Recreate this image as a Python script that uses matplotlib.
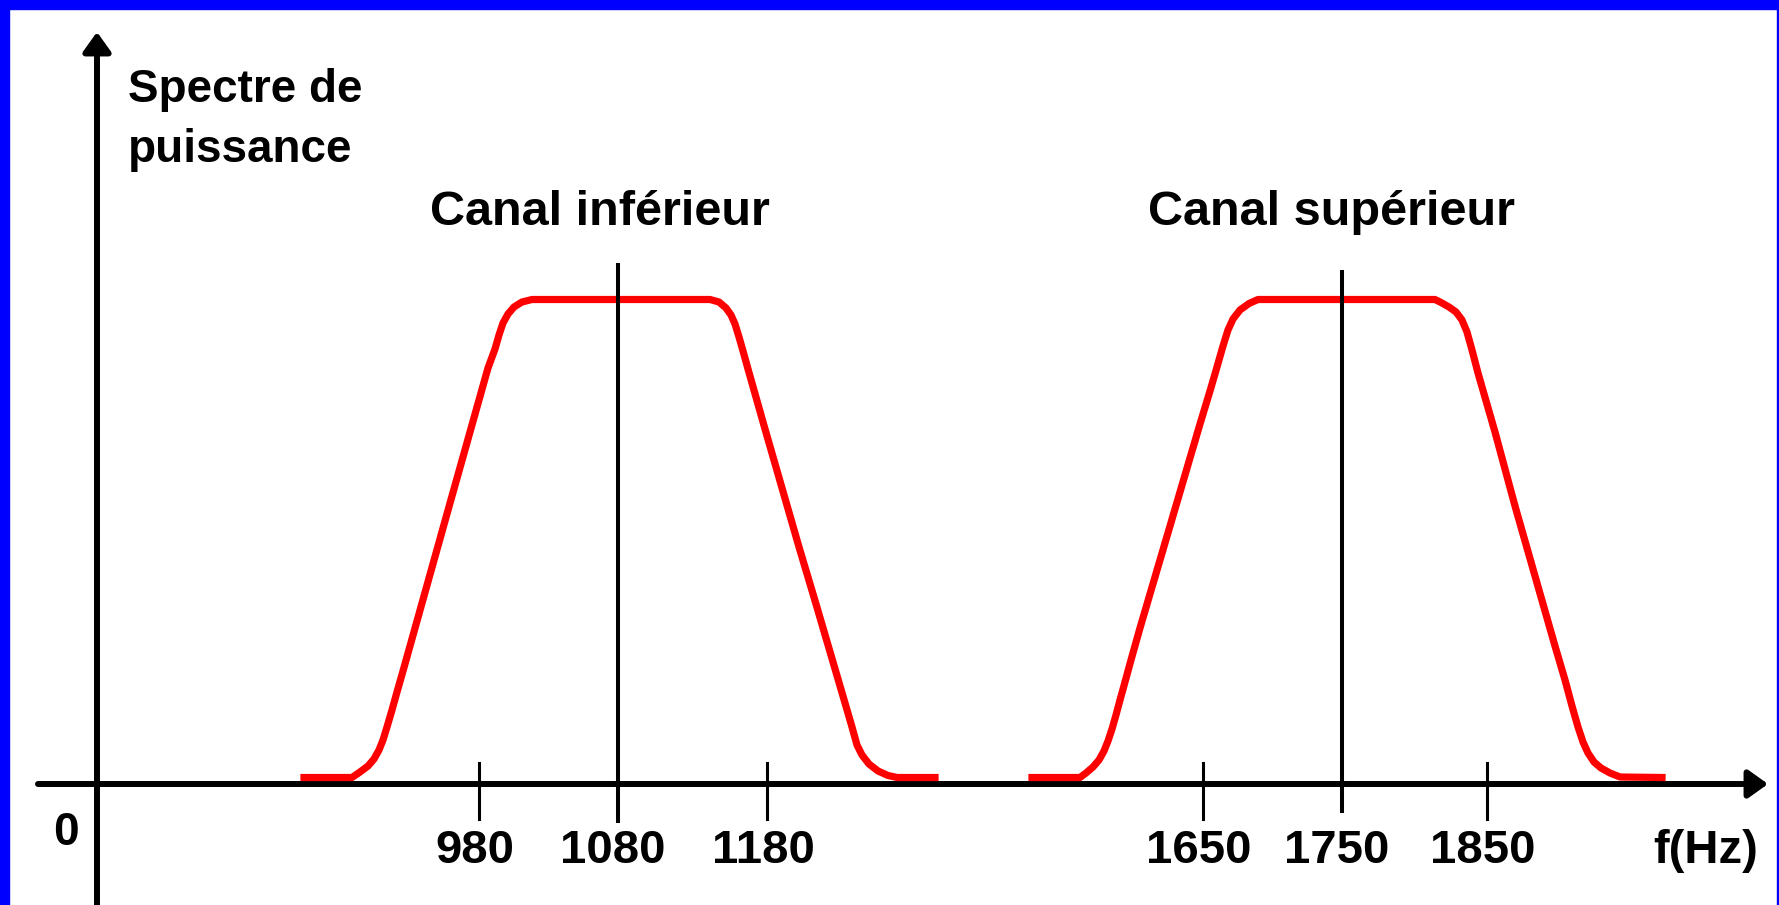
import matplotlib.pyplot as plt
from matplotlib.patches import Rectangle

# -------------------------
# DATA
# x: position along the (schematic) frequency axis
# p: power spectrum height, arbitrary units (top of the band = 484.5)
# -------------------------
low_x = [304, 352, 360, 368, 374, 379, 383, 387, 392, 397, 403, 410, 431, 452,
         470, 488, 495, 499, 503, 508, 514, 522, 532,
         710, 719, 726, 731, 735, 739, 743, 748, 765, 782, 799, 816, 833, 845,
         852, 857, 862, 869, 878, 888, 897, 935]
low_p = [6.5, 6.5, 12, 18, 25, 34, 44, 57, 74, 92, 113, 138, 213, 288,
         352, 416, 435, 449, 461, 470, 477, 482, 484.5,
         484.5, 482, 476, 469, 460, 447, 433, 415, 355, 296, 237, 180, 122, 81,
         57, 39, 29, 20, 13, 8.5, 6.5, 6.5]

high_x = [1032, 1080, 1086, 1093, 1099, 1104, 1108, 1112, 1116, 1120, 1125,
          1131, 1140, 1160, 1180, 1200, 1210, 1217, 1223, 1228, 1233, 1240,
          1249, 1258,
          1435, 1441, 1449, 1456, 1462, 1467, 1472, 1478, 1495, 1515, 1535,
          1555, 1565, 1572, 1578, 1583, 1588, 1594, 1601, 1610, 1620, 1662]
high_p = [6.5, 6.5, 11, 17, 24, 33, 43, 55, 69, 84, 102,
          124, 156, 224, 292, 360, 393, 417, 438, 454, 465, 474,
          480.5, 484.5,
          484.5, 481.5, 477, 472, 464, 452, 434, 411, 352, 278, 208,
          138, 104, 78, 57, 42, 31, 22, 16, 11, 7, 6.5]

tick_pos = [479, 767, 1203, 1487]
tick_labels = ["980", "1180", "1650", "1850"]
centre_pos = [618, 1342]
centre_labels = ["1080", "1750"]
centre_top = [519, 512]
centre_bottom = [-37, -27]
channel_names = ["Canal inférieur", "Canal supérieur"]
channel_name_x = [600, 1332]
ylabel_lines = ["Spectre de", "puissance"]

FONT = dict(family="Liberation Sans", fontweight="bold", color="black")

# -------------------------
# FIGURE
# -------------------------
fig = plt.figure(figsize=(17.79, 9.05), dpi=100)
ax = fig.add_axes([0, 0, 1, 1])
ax.set_xlim(0, 1779)
ax.set_ylim(-121, 784)
ax.axis("off")

# blue frame
blue = (0, 0, 1)
fig.patches.append(Rectangle((0, 0), 9 / 1779, 1, transform=fig.transFigure, color=blue))
fig.patches.append(Rectangle((0, 1 - 9 / 905), 1, 9 / 905, transform=fig.transFigure, color=blue))
fig.patches.append(Rectangle((1 - 2.5 / 1779, 0), 2.5 / 1779, 1, transform=fig.transFigure, color=blue))

# axes with arrows
arrow = dict(arrowstyle="-|>,head_length=0.42,head_width=0.3", lw=4.3, color="black",
             shrinkA=0, shrinkB=0, mutation_scale=28)
ax.annotate("", xy=(1768, 0), xytext=(38, 0), arrowprops=arrow)
ax.annotate("", xy=(97, 752), xytext=(97, -125), arrowprops=arrow)

# spectra
ax.plot(low_x, low_p, color="red", lw=5.2, solid_joinstyle="round", zorder=3)
ax.plot(high_x, high_p, color="red", lw=5.2, solid_joinstyle="round", zorder=3)

# centre lines and ticks
for x, top, bot, lab in zip(centre_pos, centre_top, centre_bottom, centre_labels):
    ax.plot([x, x], [bot, top], color="black", lw=2.9, zorder=4)
    ax.text(x - 5, -79, lab, ha="center", va="baseline", fontsize=34, **FONT)
for x, lab in zip(tick_pos, tick_labels):
    ax.plot([x, x], [-35, 21], color="black", lw=2.2)
    ax.text(x - 4, -79, lab, ha="center", va="baseline", fontsize=34, **FONT)

# texts
for name, x in zip(channel_names, channel_name_x):
    ax.text(x, 559, name, ha="center", va="baseline", fontsize=35, **FONT)
ax.text(128, 682, ylabel_lines[0], ha="left", va="baseline", fontsize=33, **FONT)
ax.text(128, 622, ylabel_lines[1], ha="left", va="baseline", fontsize=33, **FONT)
ax.text(66, -61, "0", ha="center", va="baseline", fontsize=33, **FONT)
ax.text(1653, -79, "f(Hz)", ha="left", va="baseline", fontsize=34, **FONT)

fig.savefig("out.png", dpi=100, facecolor="white")
